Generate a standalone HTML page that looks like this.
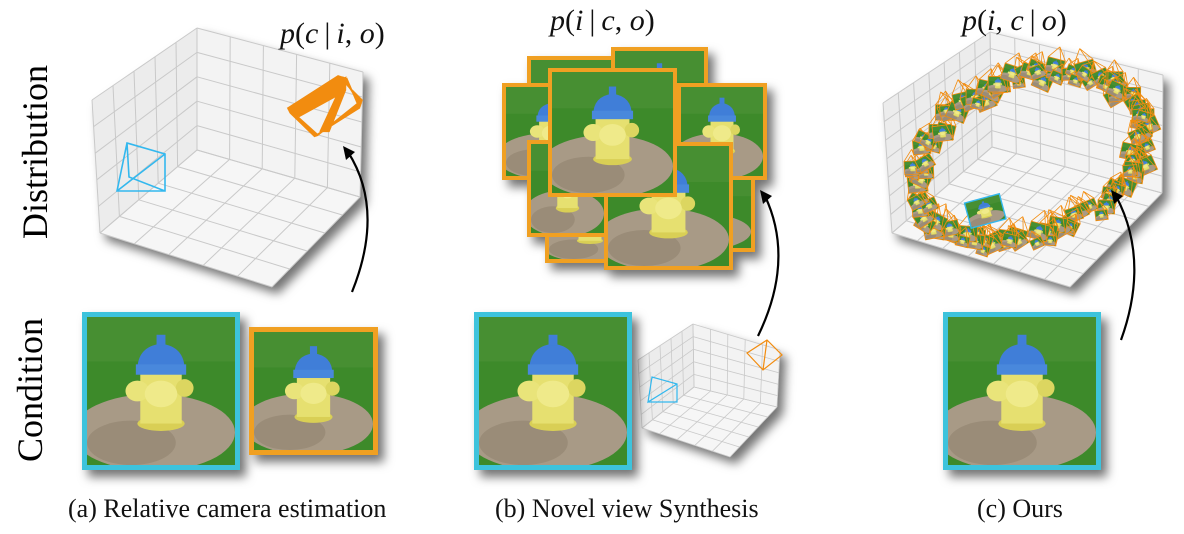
<!DOCTYPE html>
<html><head><meta charset="utf-8"><style>
html,body{margin:0;padding:0;background:#fff;}
body{width:1184px;height:534px;position:relative;overflow:hidden;font-family:"Liberation Serif","DejaVu Serif",serif;}
.t{position:absolute;white-space:nowrap;color:#111;font-family:"Liberation Serif","DejaVu Serif",serif;}
.f{font-style:italic;font-size:30px;}
.f span{font-style:normal;}
.cap{font-size:26px;}
.rot{position:absolute;transform:rotate(-90deg);transform-origin:center;font-size:36px;white-space:nowrap;font-family:"Liberation Serif","DejaVu Serif",serif;}
</style></head><body>
<svg id="s" width="1184" height="534" viewBox="0 0 1184 534" style="position:absolute;left:0;top:0">
<defs>
<filter id="sh" x="-20%" y="-20%" width="150%" height="150%"><feDropShadow dx="6" dy="7" stdDeviation="5" flood-color="#000" flood-opacity="0.55"/></filter>
<symbol id="hy" viewBox="0 0 100 100" preserveAspectRatio="none">
<rect width="100" height="100" fill="#3d8a2c"/>
<rect y="0" width="100" height="30" fill="#478f33"/>
<ellipse cx="45" cy="78" rx="55" ry="26" fill="#a89a86"/>
<ellipse cx="30" cy="85" rx="30" ry="15" fill="#9a8c78"/>
<ellipse cx="50" cy="72" rx="16" ry="5" fill="#d9cf55"/>
<rect x="36" y="38" width="28" height="34" fill="#e6e070"/>
<ellipse cx="34" cy="50" rx="8" ry="7" fill="#e9e47a"/>
<ellipse cx="66" cy="48" rx="6" ry="6" fill="#dcd660"/>
<ellipse cx="50" cy="52" rx="11" ry="9" fill="#efea8a"/>
<path d="M34 36 Q34 20 50 18 Q66 20 66 36 Z" fill="#3f7ed8"/>
<rect x="33" y="32" width="34" height="7" fill="#4a88dc"/>
<rect x="47" y="12" width="6" height="7" fill="#3f7ed8"/>
</symbol>
</defs>
<g id="boxes"></g>
<g id="stack" filter="url(#sh)"></g>
<g id="ring"></g>
<g filter="url(#sh)">
<rect x="82" y="312" width="158" height="158" fill="#3ec3dc"/>
<use href="#hy" x="87" y="317" width="148" height="148"/>
<rect x="249" y="327" width="129" height="128" fill="#f0a020"/>
<use href="#hy" x="254" y="332" width="119" height="118"/>
<rect x="474" y="312" width="158" height="158" fill="#3ec3dc"/>
<use href="#hy" x="479" y="317" width="148" height="148"/>
<rect x="943" y="312" width="158" height="158" fill="#3ec3dc"/>
<use href="#hy" x="948" y="317" width="148" height="148"/>
</g>
<g fill="none" stroke="#000" stroke-width="2.2">
<path d="M352 292 Q385 210 348 152"/>
<path d="M758 336 Q795 260 765 196"/>
<path d="M1121 340 Q1150 260 1116 196"/>
</g>
<g fill="#000">
<polygon points="343,146 355,152 346,160"/>
<polygon points="760,190 772,196 763,204"/>
<polygon points="1111,190 1123,196 1114,204"/>
</g>
</svg>
<div class="t f" style="left:280px;top:17px">p<span>(</span>c<span>&thinsp;|&thinsp;</span>i<span>, </span>o<span>)</span></div>
<div class="t f" style="left:550px;top:4px">p<span>(</span>i<span>&thinsp;|&thinsp;</span>c<span>, </span>o<span>)</span></div>
<div class="t f" style="left:962px;top:4px">p<span>(</span>i<span>, </span>c<span>&thinsp;|&thinsp;</span>o<span>)</span></div>
<div class="rot" style="left:-55px;top:131px;width:180px;text-align:center">Distribution</div>
<div class="rot" style="left:-45px;top:369px;width:150px;text-align:center">Condition</div>
<div class="t cap" style="left:68px;top:494px">(a) Relative camera estimation</div>
<div class="t cap" style="left:495px;top:494px">(b) Novel view Synthesis</div>
<div class="t cap" style="left:977px;top:494px">(c) Ours</div>
<script>
const NS="http://www.w3.org/2000/svg";
function el(p,t,a){const e=document.createElementNS(NS,t);for(const k in a)e.setAttribute(k,a[k]);p.appendChild(e);return e;}
const L=(a,b,t)=>[a[0]+(b[0]-a[0])*t,a[1]+(b[1]-a[1])*t];
function box(g,TL,TB,TR,RB,B,BL,I,n,sw){
 const gg=el(g,'g',{});
 el(gg,'polygon',{points:[TL,TB,TR,RB,B,BL].map(p=>p.join(',')).join(' '),fill:'#fff',filter:'url(#sh)'});
 el(gg,'polygon',{points:[TL,TB,I,BL].map(p=>p.join(',')).join(' '),fill:'#ececec'});
 el(gg,'polygon',{points:[TB,TR,RB,I].map(p=>p.join(',')).join(' '),fill:'#f3f3f3'});
 el(gg,'polygon',{points:[I,RB,B,BL].map(p=>p.join(',')).join(' '),fill:'#f6f6f6'});
 const ln=(a,b)=>el(gg,'line',{x1:a[0],y1:a[1],x2:b[0],y2:b[1],stroke:'#c9c9c9','stroke-width':sw});
 for(let k=0;k<=n;k++){const t=k/n;
  ln(L(TL,TB,t),L(BL,I,t)); ln(L(TL,BL,t),L(TB,I,t));
  ln(L(TB,TR,t),L(I,RB,t)); ln(L(TB,I,t),L(TR,RB,t));
  ln(L(I,RB,t),L(BL,B,t)); ln(L(I,BL,t),L(RB,B,t));}
}
const bx=document.getElementById('boxes');
box(bx,[92,100],[197,28],[363,72],[360,197],[272,287],[100,233],[197,150],5,1);
box(bx,[638,360],[693,324],[780,350],[777,407],[730,457],[642,428],[694,387],5,0.8);
box(bx,[883,103],[990,32],[1163,75],[1162,193],[1070,287],[892,233],[992,147],7,1);
el(bx,'path',{d:'M127 143 L117 191 L165 191 L165 154 Z M127 143 L129 177 L165 191 M117 191 L165 154',fill:'none',stroke:'#33b8ee','stroke-width':1.6});
let od='';for(let i=0;i<12;i++){const d=i*1.2,e=i*0.8;
 od+='M'+(288+e*0.3)+' '+(108+d*0.4)+' L'+(338+e)+' '+(76+d*0.2)+' L'+(362-e*0.3)+' '+(100+d*0.6)+' L'+(318-e*0.4)+' '+(135+d*0.1)+' Z M'+(290+e)+' '+(110+d*0.5)+' L'+(345)+' '+(78+d)+' L'+(320+e)+' '+(132)+' ';}
el(bx,'path',{d:od,fill:'none',stroke:'#f28c0f','stroke-width':1.5});
el(bx,'path',{d:'M648 402 L677 402 L677 384 L652 377 Z M652 377 L648 402 L677 384',fill:'none',stroke:'#33b8ee','stroke-width':1.2});
el(bx,'path',{d:'M747 353 L767 340 L782 355 L763 370 Z M767 340 L763 370',fill:'none',stroke:'#f28c0f','stroke-width':1.2});
const st=document.getElementById('stack');
[[527,56,90,100],[611,47,97,110],[640,170,115,82],[545,190,90,73],[502,83,100,97],[677,83,90,97],[527,140,81,97],[604,142,129,128],[548,68,129,129]].forEach(r=>{
 el(st,'rect',{x:r[0],y:r[1],width:r[2],height:r[3],fill:'#f0a020'});
 el(st,'use',{href:'#hy',x:r[0]+4,y:r[1]+4,width:r[2]-8,height:r[3]-8});});
const rg=document.getElementById('ring');
let seed=3;const rnd=()=>{seed=(seed*9301+49297)%233280;return seed/233280;};
const rot=-22*Math.PI/180;
for(let i=0;i<130;i++){const a=i/130*Math.PI*2+rnd()*0.05;
 const ex=118*Math.cos(a)+rnd()*14-7, ey=78*Math.sin(a)+rnd()*16-8;
 const cx=1030+ex*Math.cos(rot)-ey*Math.sin(rot), cy=158+ex*Math.sin(rot)+ey*Math.cos(rot);
 const s=12+rnd()*8;
 const g=el(rg,'g',{transform:'translate('+cx.toFixed(1)+','+cy.toFixed(1)+') rotate('+(rnd()*70-35).toFixed(1)+')'});
 el(g,'use',{href:'#hy',x:-s/2,y:-s*0.4,width:s,height:s*0.8});
 el(g,'path',{d:'M'+(-s/2)+' '+(-s*0.4)+' L'+(s/2)+' '+(-s*0.4)+' L'+(s/2)+' '+(s*0.4)+' L'+(-s/2)+' '+(s*0.4)+' Z M0 '+(-s*1.1)+' L'+(-s/2)+' '+(-s*0.4)+' M0 '+(-s*1.1)+' L'+(s/2)+' '+(-s*0.4)+' M0 '+(-s*1.1)+' L'+(s/2)+' '+(s*0.4),fill:'none',stroke:'#f28c0f','stroke-width':0.8});}
const g2=el(rg,'g',{transform:'translate(985,210) rotate(-15)'});
el(g2,'use',{href:'#hy',x:-18,y:-12,width:36,height:26});
el(g2,'rect',{x:-18,y:-12,width:36,height:26,fill:'none',stroke:'#33b8ee','stroke-width':1.4});
</script>
</body></html>
